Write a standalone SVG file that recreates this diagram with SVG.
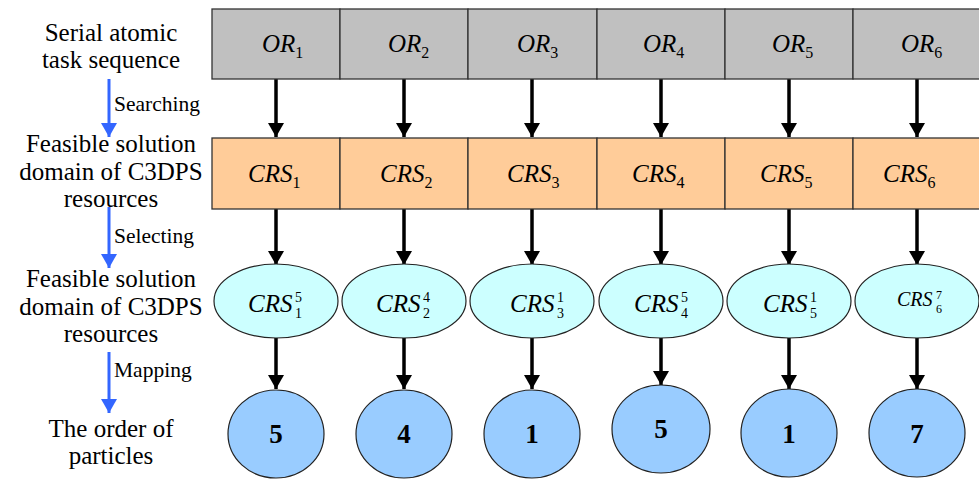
<svg xmlns="http://www.w3.org/2000/svg" width="979" height="479" viewBox="0 0 979 479">
  <style>
    text { font-family: "Times New Roman", "Liberation Serif", Tinos, "DejaVu Serif", serif; fill: #000; }
    .lbl { font-size: 25px; text-anchor: middle; }
    .step { font-size: 21.5px; }
    .math { font-style: italic; font-size: 25px; }
    .idx { font-style: normal; font-size: 16px; }
    .sc { font-style: normal; font-size: 14px; }
    .num { font-weight: bold; font-size: 27px; text-anchor: middle; }
    .task { fill: #C0C0C0; stroke: #333; stroke-width: 1.3; }
    .res { fill: #FFCC99; stroke: #333; stroke-width: 1.3; }
    .sel { fill: #CCFFFF; stroke: #222; stroke-width: 1.2; }
    .part { fill: #99CCFF; stroke: #222; stroke-width: 1.2; }
    .flow { stroke: #000; stroke-width: 3.5; fill: none; marker-end: url(#head); }
    .phase { stroke: #3366FF; stroke-width: 3; fill: none; marker-end: url(#bhead); }
  </style>
  <defs>
    <marker id="head" viewBox="0 0 14 16" refX="14" refY="8" markerWidth="14" markerHeight="16" orient="auto" markerUnits="userSpaceOnUse">
      <path d="M0,0 L14,8 L0,16 Z" fill="#000"/>
    </marker>
    <marker id="bhead" viewBox="0 0 14 16" refX="14" refY="8" markerWidth="14" markerHeight="16" orient="auto" markerUnits="userSpaceOnUse">
      <path d="M0,0 L14,8 L0,16 Z" fill="#3366FF"/>
    </marker>
  </defs>

  <rect width="979" height="479" fill="#fff"/>

  <!-- row titles -->
  <g id="titles">
    <text class="lbl" x="111" y="41">Serial atomic</text>
    <text class="lbl" x="111" y="68">task sequence</text>
    <text class="lbl" x="111" y="152">Feasible solution</text>
    <text class="lbl" x="111" y="180">domain of C3DPS</text>
    <text class="lbl" x="111" y="207">resources</text>
    <text class="lbl" x="111" y="287">Feasible solution</text>
    <text class="lbl" x="111" y="315">domain of C3DPS</text>
    <text class="lbl" x="111" y="342">resources</text>
    <text class="lbl" x="111" y="437">The order of</text>
    <text class="lbl" x="111" y="464">particles</text>
  </g>

  <!-- phase arrows -->
  <g id="phases">
    <line class="phase" x1="109" y1="79" x2="109" y2="137"/>
    <text class="step" x="114" y="111">Searching</text>
    <line class="phase" x1="109" y1="207" x2="109" y2="268"/>
    <text class="step" x="114" y="243">Selecting</text>
    <line class="phase" x1="109" y1="352" x2="109" y2="413"/>
    <text class="step" x="114" y="377">Mapping</text>
  </g>

  <!-- connectors -->
  <g id="connectors">
    <line class="flow" x1="276" y1="79" x2="276" y2="137"/>
    <line class="flow" x1="404" y1="79" x2="404" y2="137"/>
    <line class="flow" x1="532" y1="79" x2="532" y2="137"/>
    <line class="flow" x1="661" y1="79" x2="661" y2="137"/>
    <line class="flow" x1="789" y1="79" x2="789" y2="137"/>
    <line class="flow" x1="917" y1="79" x2="917" y2="137"/>

    <line class="flow" x1="276" y1="209" x2="276" y2="265"/>
    <line class="flow" x1="404" y1="209" x2="404" y2="265"/>
    <line class="flow" x1="532" y1="209" x2="532" y2="265"/>
    <line class="flow" x1="661" y1="209" x2="661" y2="265"/>
    <line class="flow" x1="789" y1="209" x2="789" y2="265"/>
    <line class="flow" x1="917" y1="209" x2="917" y2="265"/>

    <line class="flow" x1="276" y1="338" x2="276" y2="389"/>
    <line class="flow" x1="404" y1="338" x2="404" y2="389"/>
    <line class="flow" x1="532" y1="338" x2="532" y2="389"/>
    <line class="flow" x1="661" y1="338" x2="661" y2="385"/>
    <line class="flow" x1="789" y1="338" x2="789" y2="389"/>
    <line class="flow" x1="917" y1="338" x2="917" y2="389"/>
  </g>

  <!-- serial atomic tasks -->
  <g id="or1"><rect class="task" x="212" y="9" width="128" height="70"/><text class="math" x="262" y="52">OR<tspan class="idx" y="58">1</tspan></text></g>
  <g id="or2"><rect class="task" x="340" y="9" width="128" height="70"/><text class="math" x="388" y="52">OR<tspan class="idx" y="58">2</tspan></text></g>
  <g id="or3"><rect class="task" x="468" y="9" width="129" height="70"/><text class="math" x="517" y="52">OR<tspan class="idx" y="58">3</tspan></text></g>
  <g id="or4"><rect class="task" x="597" y="9" width="128" height="70"/><text class="math" x="643" y="52">OR<tspan class="idx" y="58">4</tspan></text></g>
  <g id="or5"><rect class="task" x="725" y="9" width="128" height="70"/><text class="math" x="772" y="52">OR<tspan class="idx" y="58">5</tspan></text></g>
  <g id="or6"><rect class="task" x="853" y="9" width="128" height="70"/><text class="math" x="901" y="52">OR<tspan class="idx" y="58">6</tspan></text></g>

  <!-- candidate resource sets -->
  <g id="crs1"><rect class="res" x="212" y="138" width="128" height="71"/><text class="math" x="248" y="182">CRS<tspan class="idx" y="188">1</tspan></text></g>
  <g id="crs2"><rect class="res" x="340" y="138" width="128" height="71"/><text class="math" x="380" y="182">CRS<tspan class="idx" y="188">2</tspan></text></g>
  <g id="crs3"><rect class="res" x="468" y="138" width="129" height="71"/><text class="math" x="507" y="182">CRS<tspan class="idx" y="188">3</tspan></text></g>
  <g id="crs4"><rect class="res" x="597" y="138" width="128" height="71"/><text class="math" x="632" y="182">CRS<tspan class="idx" y="188">4</tspan></text></g>
  <g id="crs5"><rect class="res" x="725" y="138" width="128" height="71"/><text class="math" x="760" y="182">CRS<tspan class="idx" y="188">5</tspan></text></g>
  <g id="crs6"><rect class="res" x="853" y="138" width="128" height="71"/><text class="math" x="883" y="182">CRS<tspan class="idx" y="188">6</tspan></text></g>

  <!-- selected resources (superscript over subscript) -->
  <g id="sel1"><ellipse class="sel" cx="276" cy="301" rx="62" ry="37"/><text class="math" x="248" y="312">CRS<tspan class="sc" x="295" y="302">5</tspan><tspan class="sc" x="295" y="318">1</tspan></text></g>
  <g id="sel2"><ellipse class="sel" cx="404" cy="301" rx="62" ry="37"/><text class="math" x="376" y="312">CRS<tspan class="sc" x="423" y="302">4</tspan><tspan class="sc" x="423" y="318">2</tspan></text></g>
  <g id="sel3"><ellipse class="sel" cx="532" cy="301" rx="62" ry="37"/><text class="math" x="510" y="312">CRS<tspan class="sc" x="557" y="302">1</tspan><tspan class="sc" x="557" y="318">3</tspan></text></g>
  <g id="sel4"><ellipse class="sel" cx="661" cy="301" rx="62" ry="37"/><text class="math" x="634" y="312">CRS<tspan class="sc" x="681" y="302">5</tspan><tspan class="sc" x="681" y="318">4</tspan></text></g>
  <g id="sel5"><ellipse class="sel" cx="789" cy="301" rx="62" ry="37"/><text class="math" x="763" y="312">CRS<tspan class="sc" x="810" y="302">1</tspan><tspan class="sc" x="810" y="318">5</tspan></text></g>
  <g id="sel6"><ellipse class="sel" cx="917" cy="301" rx="62" ry="37"/><text class="math" x="897" y="306" style="font-size:20px">CRS<tspan class="sc" x="936" y="299" style="font-size:12px">7</tspan><tspan class="sc" x="936" y="313" style="font-size:12px">6</tspan></text></g>

  <!-- particle order -->
  <g id="p1"><ellipse class="part" cx="276" cy="434" rx="48" ry="44"/><text class="num" x="276" y="443">5</text></g>
  <g id="p2"><ellipse class="part" cx="404" cy="434" rx="48" ry="44"/><text class="num" x="404" y="443">4</text></g>
  <g id="p3"><ellipse class="part" cx="532" cy="434" rx="48" ry="44"/><text class="num" x="532" y="443">1</text></g>
  <g id="p4"><ellipse class="part" cx="661" cy="429" rx="49" ry="44"/><text class="num" x="661" y="438">5</text></g>
  <g id="p5"><ellipse class="part" cx="789" cy="433" rx="48" ry="44"/><text class="num" x="789" y="443">1</text></g>
  <g id="p6"><ellipse class="part" cx="917" cy="433" rx="48" ry="44"/><text class="num" x="917" y="443">7</text></g>
</svg>
